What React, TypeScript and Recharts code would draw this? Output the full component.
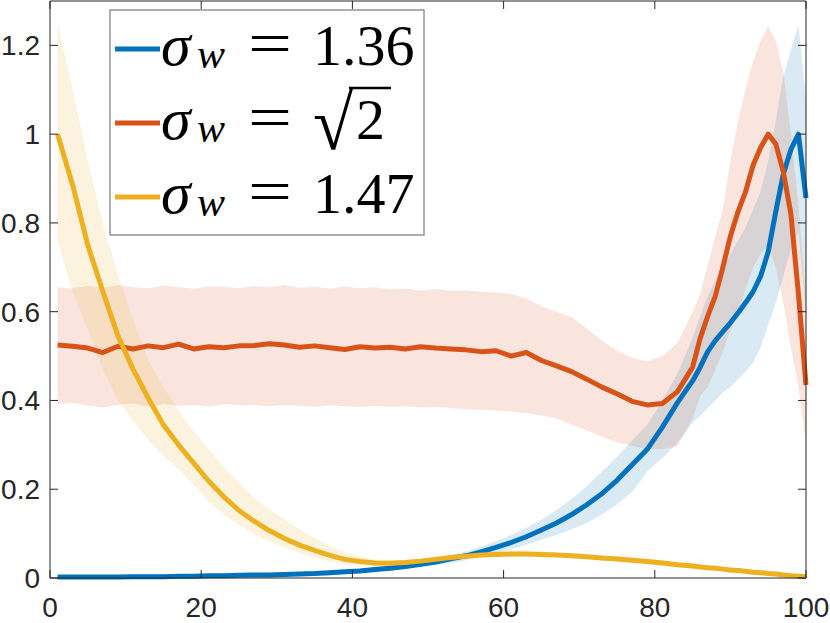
import { Area, ComposedChart, Line, ReferenceLine, XAxis, YAxis } from "recharts";

// x positions: odd steps up to 83, then every step to the end
const xs = [
	1, 3, 5, 7, 9, 11, 13, 15, 17, 19, 21, 23, 25, 27, 29, 31, 33, 35, 37, 39, 41,
	43, 45, 47, 49, 51, 53, 55, 57, 59, 61, 63, 65, 67, 69, 71, 73, 75, 77, 79, 81,
	83, 85, 86, 87, 88, 89, 90, 91, 92, 93, 94, 95, 96, 97, 98, 99, 100,
];

const blueMean = [
	0.002, 0.002, 0.002, 0.002, 0.002, 0.003, 0.003, 0.003, 0.004, 0.004, 0.005,
	0.005, 0.006, 0.007, 0.007, 0.008, 0.009, 0.01, 0.012, 0.014, 0.016, 0.019,
	0.022, 0.026, 0.031, 0.036, 0.043, 0.05, 0.059, 0.069, 0.08, 0.093, 0.108,
	0.124, 0.143, 0.165, 0.19, 0.22, 0.255, 0.29, 0.34, 0.395, 0.444, 0.475, 0.51,
	0.535, 0.555, 0.575, 0.597, 0.62, 0.645, 0.68, 0.735, 0.825, 0.91, 0.965, 1.0,
	0.856,
];
const blueLow = [
	0, 0, 0, 0, 0, 0.001, 0.001, 0.001, 0.002, 0.002, 0.003, 0.003, 0.004, 0.004,
	0.004, 0.005, 0.006, 0.007, 0.008, 0.01, 0.012, 0.014, 0.017, 0.02, 0.024,
	0.029, 0.034, 0.04, 0.048, 0.056, 0.065, 0.075, 0.086, 0.097, 0.11, 0.124,
	0.143, 0.166, 0.194, 0.24, 0.27, 0.305, 0.35, 0.365, 0.383, 0.4, 0.418, 0.43,
	0.447, 0.465, 0.485, 0.52, 0.57, 0.62, 0.68, 0.74, 0.78, 0.6,
];
const blueHigh = [
	0.005, 0.005, 0.005, 0.005, 0.005, 0.006, 0.006, 0.006, 0.007, 0.007, 0.008,
	0.008, 0.009, 0.01, 0.011, 0.012, 0.013, 0.015, 0.017, 0.019, 0.022, 0.025,
	0.029, 0.033, 0.038, 0.044, 0.052, 0.06, 0.071, 0.083, 0.097, 0.113, 0.131,
	0.153, 0.178, 0.207, 0.24, 0.273, 0.31, 0.345, 0.4, 0.46, 0.54, 0.59, 0.635,
	0.67, 0.7, 0.73, 0.76, 0.79, 0.83, 0.87, 0.94, 1.03, 1.13, 1.19, 1.247, 1.08,
];

const redMean = [
	0.525, 0.522, 0.518, 0.508, 0.522, 0.516, 0.523, 0.519, 0.527, 0.516, 0.521,
	0.519, 0.523, 0.524, 0.528, 0.525, 0.52, 0.523, 0.519, 0.515, 0.521, 0.518,
	0.52, 0.516, 0.521, 0.518, 0.516, 0.514, 0.51, 0.512, 0.5, 0.508, 0.49, 0.478,
	0.465, 0.448, 0.43, 0.415, 0.398, 0.39, 0.393, 0.42, 0.475, 0.54, 0.59, 0.635,
	0.7, 0.77, 0.825, 0.87, 0.93, 0.97, 1.0, 0.978, 0.915, 0.82, 0.64, 0.435,
];
const redLow = [
	0.392, 0.395, 0.388, 0.384, 0.39, 0.393, 0.386, 0.392, 0.388, 0.39, 0.386,
	0.392, 0.389, 0.39, 0.387, 0.39, 0.388, 0.386, 0.389, 0.387, 0.385, 0.388,
	0.386, 0.387, 0.384, 0.386, 0.383, 0.38, 0.379, 0.377, 0.375, 0.372, 0.366,
	0.36, 0.345, 0.333, 0.318, 0.306, 0.298, 0.29, 0.29, 0.297, 0.36, 0.41, 0.43,
	0.47, 0.51, 0.56, 0.6, 0.65, 0.7, 0.73, 0.75, 0.7, 0.62, 0.52, 0.43, 0.3,
];
const redHigh = [
	0.655, 0.652, 0.658, 0.654, 0.66, 0.655, 0.653, 0.659, 0.655, 0.652, 0.657,
	0.656, 0.653, 0.658, 0.655, 0.66, 0.654, 0.656, 0.652, 0.657, 0.653, 0.655,
	0.65, 0.652, 0.648, 0.651, 0.647, 0.648, 0.645, 0.643, 0.64, 0.63, 0.612, 0.6,
	0.588, 0.562, 0.535, 0.512, 0.496, 0.488, 0.5, 0.53, 0.6, 0.64, 0.705, 0.77,
	0.83, 0.94, 1.03, 1.1, 1.165, 1.21, 1.243, 1.21, 1.14, 1.0, 0.84, 0.62,
];

const yellowMean = [
	1.0, 0.885, 0.75, 0.645, 0.545, 0.47, 0.405, 0.345, 0.3, 0.259, 0.218, 0.183,
	0.152, 0.128, 0.107, 0.089, 0.074, 0.062, 0.051, 0.042, 0.037, 0.034, 0.033,
	0.035, 0.038, 0.042, 0.046, 0.049, 0.052, 0.053, 0.054, 0.054, 0.053, 0.052,
	0.05, 0.048, 0.045, 0.043, 0.04, 0.037, 0.034, 0.03, 0.027, 0.025, 0.023,
	0.022, 0.02, 0.018, 0.017, 0.015, 0.013, 0.012, 0.01, 0.009, 0.007, 0.005,
	0.004, 0.003,
];
const yellowLow = [
	0.76, 0.645, 0.56, 0.47, 0.4, 0.355, 0.31, 0.275, 0.245, 0.21, 0.172, 0.142,
	0.12, 0.099, 0.082, 0.068, 0.056, 0.046, 0.037, 0.031, 0.028, 0.027, 0.027,
	0.029, 0.032, 0.036, 0.04, 0.043, 0.046, 0.047, 0.048, 0.048, 0.047, 0.046,
	0.044, 0.042, 0.039, 0.037, 0.034, 0.031, 0.028, 0.024, 0.021, 0.019, 0.017,
	0.016, 0.014, 0.012, 0.011, 0.009, 0.008, 0.006, 0.005, 0.004, 0.002, 0.001,
	0, 0,
];
const yellowHigh = [
	1.25, 1.1, 0.94, 0.8, 0.68, 0.58, 0.49, 0.43, 0.378, 0.33, 0.29, 0.25, 0.215,
	0.18, 0.155, 0.132, 0.11, 0.09, 0.073, 0.058, 0.048, 0.042, 0.04, 0.041, 0.044,
	0.048, 0.052, 0.055, 0.058, 0.059, 0.06, 0.06, 0.059, 0.058, 0.056, 0.054,
	0.051, 0.049, 0.046, 0.043, 0.04, 0.036, 0.033, 0.031, 0.029, 0.028, 0.026,
	0.024, 0.022, 0.02, 0.018, 0.017, 0.015, 0.014, 0.012, 0.01, 0.009, 0.008,
];

const xTicks = [0, 20, 40, 60, 80, 100];
const yTicks = [0, 0.2, 0.4, 0.6, 0.8, 1, 1.2];

const BLUE = "#0072BD";
const RED = "#D95319";
const YELLOW = "#EDB120";
const AXIS = "#262626";

const W = 830;
const H = 623;
const PLOT_LEFT = 50;
const PLOT_RIGHT = 806;
const PLOT_TOP = 1;
const PLOT_BOTTOM = 578;
const TICK_LEN = 8;
const LINE_W = 5;

const data = xs.map((x, i) => ({
	x,
	blue: blueMean[i],
	blueBand: [blueLow[i], blueHigh[i]],
	red: redMean[i],
	redBand: [redLow[i], redHigh[i]],
	yellow: yellowMean[i],
	yellowBand: [yellowLow[i], yellowHigh[i]],
}));

const XTick = (props: any) => {
	const { x, payload } = props;
	return (
		<g>
			<line x1={x} x2={x} y1={PLOT_BOTTOM} y2={PLOT_BOTTOM - TICK_LEN} stroke={AXIS} />
			<line x1={x} x2={x} y1={PLOT_TOP} y2={PLOT_TOP + TICK_LEN} stroke={AXIS} />
			<text
				x={x}
				y={PLOT_BOTTOM + 39}
				textAnchor="middle"
				fontSize={28}
				fontFamily="Liberation Sans, Arial, sans-serif"
				fill={AXIS}
			>
				{payload.value}
			</text>
		</g>
	);
};

const YTick = (props: any) => {
	const { y, payload } = props;
	return (
		<g>
			<line x1={PLOT_LEFT} x2={PLOT_LEFT + TICK_LEN} y1={y} y2={y} stroke={AXIS} />
			<line x1={PLOT_RIGHT} x2={PLOT_RIGHT - TICK_LEN} y1={y} y2={y} stroke={AXIS} />
			<text
				x={PLOT_LEFT - 10}
				y={y + 10}
				textAnchor="end"
				fontSize={28}
				fontFamily="Liberation Sans, Arial, sans-serif"
				fill={AXIS}
			>
				{payload.value}
			</text>
		</g>
	);
};

const SERIF = "Liberation Serif, Times New Roman, serif";

const MathLegend = () => {
	const rows = [
		{ color: BLUE, value: "1.36" },
		{ color: RED, value: "sqrt" },
		{ color: YELLOW, value: "1.47" },
	];
	return (
		<svg
			width={316}
			height={227}
			style={{ position: "absolute", left: 109, top: 9 }}
		>
			<rect x={1} y={1} width={314} height={225} fill="#fff" stroke="#7a7a7a" strokeWidth={1.2} />
			{rows.map((r, i) => {
				const cy = 40 + i * 74;
				const base = cy + 16;
				return (
					<g key={i}>
						<line x1={6} x2={51} y1={cy} y2={cy} stroke={r.color} strokeWidth={LINE_W} />
						<text x={52} y={base} fontSize={60} fontStyle="italic" fontFamily={SERIF} fill="#000">
							σ
						</text>
						<text x={88} y={base + 3} fontSize={42} fontStyle="italic" fontFamily={SERIF} fill="#000">
							w
						</text>
						<text
							x={139}
							y={base - 1}
							fontSize={62}
							fontFamily={SERIF}
							fill="#000"
							textLength={44}
							lengthAdjust="spacingAndGlyphs"
						>
							=
						</text>
						{r.value === "sqrt" ? (
							<g>
								<text
									x={204}
									y={base + 10}
									fontSize={76}
									fontFamily={SERIF}
									fill="#000"
									textLength={40}
									lengthAdjust="spacingAndGlyphs"
								>
									√
								</text>
								<line x1={240} x2={282} y1={cy - 35} y2={cy - 35} stroke="#000" strokeWidth={2.5} />
								<text x={247} y={base} fontSize={58} fontFamily={SERIF} fill="#000">
									2
								</text>
							</g>
						) : (
							<text x={204} y={base} fontSize={58} fontFamily={SERIF} fill="#000">
								{r.value}
							</text>
						)}
					</g>
				);
			})}
		</svg>
	);
};

const App = () => {
	return (
		<div style={{ position: "absolute", left: 0, top: 0, width: W, height: H, background: "#fff" }}>
			<ComposedChart
				width={W}
				height={H}
				data={data}
				margin={{ top: PLOT_TOP, right: W - PLOT_RIGHT, left: 0, bottom: 0 }}
			>
				<XAxis
					dataKey="x"
					type="number"
					domain={[0, 100]}
					ticks={xTicks}
					interval={0}
					tick={XTick}
					tickLine={false}
					axisLine={{ stroke: AXIS }}
					height={H - PLOT_BOTTOM}
				/>
				<YAxis
					type="number"
					domain={[0, 1.3]}
					ticks={yTicks}
					interval={0}
					tick={YTick}
					tickLine={false}
					axisLine={{ stroke: AXIS }}
					width={PLOT_LEFT}
				/>
				<Area
					type="linear"
					dataKey="blueBand"
					stroke="none"
					fill={BLUE}
					fillOpacity={0.15}
					isAnimationActive={false}
					activeDot={false}
				/>
				<Line
					type="linear"
					dataKey="blue"
					stroke={BLUE}
					strokeWidth={LINE_W}
					strokeLinejoin="round"
					dot={false}
					isAnimationActive={false}
				/>
				<Area
					type="linear"
					dataKey="redBand"
					stroke="none"
					fill={RED}
					fillOpacity={0.15}
					isAnimationActive={false}
					activeDot={false}
				/>
				<Line
					type="linear"
					dataKey="red"
					stroke={RED}
					strokeWidth={LINE_W}
					strokeLinejoin="round"
					dot={false}
					isAnimationActive={false}
				/>
				<Area
					type="linear"
					dataKey="yellowBand"
					stroke="none"
					fill={YELLOW}
					fillOpacity={0.15}
					isAnimationActive={false}
					activeDot={false}
				/>
				<Line
					type="linear"
					dataKey="yellow"
					stroke={YELLOW}
					strokeWidth={LINE_W}
					strokeLinejoin="round"
					dot={false}
					isAnimationActive={false}
				/>
				<ReferenceLine y={1.3} stroke={AXIS} />
				<ReferenceLine x={100} stroke={AXIS} />
			</ComposedChart>
			<MathLegend />
		</div>
	);
};

export default App;
